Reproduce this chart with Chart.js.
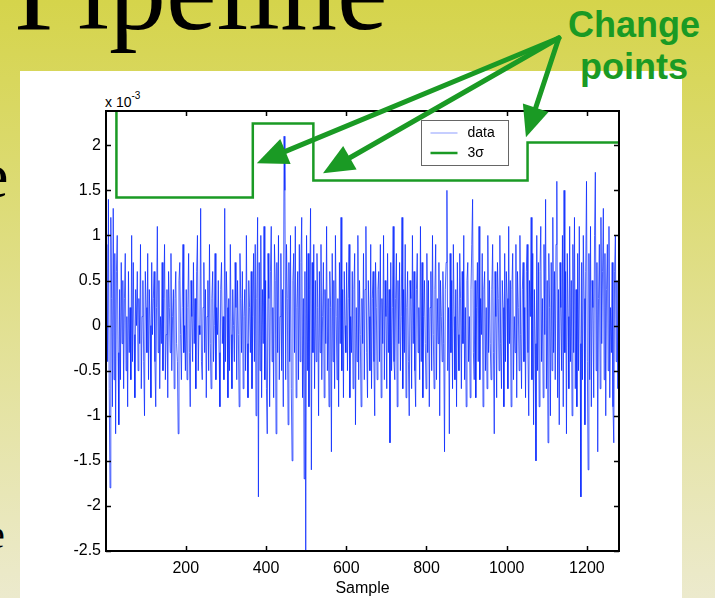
<!DOCTYPE html>
<html>
<head>
<meta charset="utf-8">
<script src="https://cdn.jsdelivr.net/npm/chart.js@4.4.0/dist/chart.umd.min.js"></script>
<style>
body { margin: 0; }
#diapo { position: relative; width: 715px; height: 598px; overflow: hidden; background: linear-gradient(#d5d44b, #eceacd); }
#titulo { position: absolute; left: 14px; top: -66px; font: 114px/114px "Liberation Serif"; color: #000; white-space: nowrap; }
.lado { position: absolute; font-family: "Liberation Serif"; color: #000; }
#panel { position: absolute; left: 20px; top: 71px; width: 662px; height: 527px; background: #fff; }
#cambios { position: absolute; left: 534px; top: 4px; width: 200px; text-align: center; font: bold 36px/42px "Liberation Sans"; color: #1a9a24; }
#exponente { position: absolute; left: 105px; top: 95px; font: 14px/14px "Liberation Sans"; color: #000; white-space: nowrap; }
#exponente span { position: relative; top: -8px; font-size: 10px; }
#myChart { position: absolute; left: 0; top: 0; }
</style>
</head>
<body>
<div id="diapo">
  <div id="titulo">Pipeline</div>
  <div class="lado" style="left:-20px; top:144px; font-size:64px; line-height:64px;">e</div>
  <div class="lado" style="left:-13px; top:515px; font-size:40px; line-height:40px;">e</div>
  <div id="panel"></div>
  <div id="cambios">Change<br>points</div>
  <div id="exponente">x 10<span>-3</span></div>
  <canvas id="myChart" width="715" height="598"></canvas>
</div>
<script>
// senal en unidades de 1e-4, una muestra cada 2
const primeraMuestra = 1
const pasoMuestra = 2
const ruido = [
    5, 9, -4, 14, -7, -18, 12, 3, -9, 13, -6, 8, -12, 6, 10, -3, -11, 4, -6, 7,
    -2, 5, -7, 3, 8, -5, 1, -9, 6, -3, 2, -6, 10, -4, 7, -1, -8, 4, 0, 6,
    -5, 3, -2, 9, -7, 1, 5, -4, -10, 6, 2, -3, 8, -6, 4, 0, -8, 7, -1, 3,
    6, -4, -9, 2, 11, -3, 5, -7, 1, -2, 7, -5, 3, 9, -6, -1, 4, -8, 6, 2,
    -3, 8, -5, 1, 4, -7, 3, 6, -2, -4, -12, 5, 7, -1, -6, 2, 9, -3, 0, -5,
    4, -6, 2, 8, -3, -9, 5, 1, -4, 7, -2, 3, -7, 6, 10, -5, 0, -1, 13, -4,
    -6, 2, 7, -3, 4, -8, 1, 5, -5, 9, -2, -7, 3, 6, -4, 0, 8, -6, 2, -1,
    5, -3, -9, 4, 7, -2, 1, -6, 13, -4, 6, 2, -8, 3, -5, 9, -1, -7, 4, 0,
    -4, 7, 2, -6, 5, -1, -9, 8, 3, -3, 6, -7, 1, 4, -5, 10, -2, -8, 5, 2,
    -3, 6, -7, 1, 8, -4, 9, -10, 3, 12, -19, 7, -5, 10, -8, 4, -2, 11, -6, 5,
    -7, -12, 8, 3, -9, 6, 11, -4, 2, -8, 9, 5, -12, 7, -3, 10, -6, 1, 8, -5,
    4, -9, 21, 15, -6, 9, 3, -11, 7, -4, 10, -7, -15, 5, 8, -3, 11, -8, 2, 6,
    -6, 9, -4, 7, 12, -8, 3, -17, 6, -28, 10, -5, 8, -9, 4, 13, -16, 7, -3, 9,
    -7, 5, -4, 8, 2, -10, 6, -3, 9, -6, 1, 7, -8, 4, -2, 11, -5, 3, -9, 6,
    2, -14, 8, -4, 5, -7, 10, 1, -6, 3, -9, 7, -2, 12, -5, 4, -8, 6, 0, -3,
    7, -5, 3, 9, -8, 1, -3, 6, -7, 4, 8, -11, 2, -4, 10, -6, 5, -1, -9, 3,
    -2, 8, -6, 4, 11, -3, -8, 5, 1, -5, 9, -7, 3, 6, -4, -10, 7, 2, -6, 4,
    6, -4, 9, -8, 3, -2, 10, -6, 5, 1, -7, 8, -3, 4, -13, 7, -5, 2, 11, -4,
    -6, 3, 8, -9, 5, -2, 7, -5, 1, 12, -7, 4, -3, 9, -8, 2, 6, -4, -10, 5,
    3, -7, 10, -2, 6, -5, -9, 4, 8, -3, 2, -6, 11, -4, 7, -8, 1, 5, -2, -7,
    8, -3, 5, -9, 2, 6, -5, 10, -1, -7, 4, 9, -6, 3, -2, 7, -10, 5, 1, -4,
    6, -2, -14, 4, 7, 15, -5, 2, -12, 8, -3, 5, -7, 9, 1, -6, 4, -9, 7, -1,
    -5, 8, 3, -7, 6, -2, 10, -6, 2, -9, 5, 7, -4, 1, -8, 4, 9, 14, -3, -6,
    5, -8, 2, 7, -4, 11, -6, 3, -1, 8, -9, 4, 6, -5, 2, -7, 10, -3, 5, -2,
    -6, 4, 9, -3, -12, 6, 1, -8, 7, 3, -5, 10, -2, -7, 5, 2, -9, 8, -4, 6,
    3, -7, 11, -2, 5, -9, 4, 8, -6, 1, -3, 9, -8, 6, 2, -5, 10, -1, -7, 4,
    7, -4, 2, -8, 6, 9, -3, -10, 5, 1, 12, -6, 8, -11, 4, -2, -15, 10, -5, 7,
    -9, 6, 11, -4, 3, -8, 9, -1, 14, -7, 5, -13, 8, 2, -10, 7, -5, 12, -3, 6,
    -6, 9, 16, -8, 4, -11, 7, 2, -5, 10, -9, 15, -3, 6, -12, 8, 1, -7, 11, -4,
    5, -10, 9, -3, 12, -7, 4, -9, 8, -5, 11, -2, -19, 7, -6, 10, 3, -11, 6, 16,
    -4, -16, 8, -6, 11, -9, 5, 2, -8, 10, 17, -5, 7, -14, 3, 9, -7, 12, -2, 6,
    13, -6, 8, -10, 4, 9, -5, 11, -8, 2, -3, 7, -9, -13, 6, 10, -4, 5, -7, 3
]
// umbral 3 sigma por tramo (unidades de 1e-4)
const cambiosMuestra = [1, 27, 367, 518, 1052, 1280]
const umbral3s = [30, 14.2, 22.4, 16.1, 20.3, 20.3]
const marcasX = [200, 400, 600, 800, 1000, 1200]
const marcasY = [-2.5, -2, -1.5, -1, -0.5, 0, 0.5, 1, 1.5, 2]
const etiquetasSerie = ['data', '3\u03c3']
// flechas de "Change points" (en coordenadas de los ejes)
const origenFlecha = [1130, 3.19]
const puntasFlecha = [[377, 1.80], [542, 1.69], [1048, 2.09]]

const verde = '#1a9a24'
const azul = 'rgba(0, 35, 255, 0.8)'
const fuente = 'Liberation Sans'

function flecha(ctx, x0, y0, x1, y1) {
    let ang = Math.atan2(y1 - y0, x1 - x0)
    let largo = 31, ancho = 13.5
    let bx = x1 - largo * Math.cos(ang), by = y1 - largo * Math.sin(ang)
    ctx.beginPath()
    ctx.moveTo(x0, y0)
    ctx.lineTo(bx, by)
    ctx.stroke()
    ctx.beginPath()
    ctx.moveTo(x1, y1)
    ctx.lineTo(bx + ancho * Math.sin(ang), by - ancho * Math.cos(ang))
    ctx.lineTo(bx - ancho * Math.sin(ang), by + ancho * Math.cos(ang))
    ctx.closePath()
    ctx.fill()
}

const adornos = {
    id: 'adornos',
    afterDraw(chart) {
        let ctx = chart.ctx
        let a = chart.chartArea
        let sx = chart.scales.x, sy = chart.scales.y
        ctx.save()
        // marco y marcas hacia adentro
        ctx.strokeStyle = '#000'
        ctx.lineWidth = 2
        ctx.strokeRect(a.left, a.top, a.right - a.left, a.bottom - a.top)
        ctx.lineWidth = 1.5
        ctx.beginPath()
        for (let v of marcasX) {
            let px = Math.round(sx.getPixelForValue(v)) + 0.5
            ctx.moveTo(px, a.bottom); ctx.lineTo(px, a.bottom - 5)
            ctx.moveTo(px, a.top); ctx.lineTo(px, a.top + 5)
        }
        for (let v of marcasY) {
            let py = Math.round(sy.getPixelForValue(v)) + 0.5
            ctx.moveTo(a.left, py); ctx.lineTo(a.left + 5, py)
            ctx.moveTo(a.right, py); ctx.lineTo(a.right - 5, py)
        }
        ctx.stroke()

        // leyenda
        let lx = 421.5, ly = 120.5
        ctx.fillStyle = '#fff'
        ctx.fillRect(lx, ly, 87, 45)
        ctx.strokeStyle = '#666'
        ctx.lineWidth = 1
        ctx.strokeRect(lx, ly, 87, 45)
        ctx.font = '14px "' + fuente + '"'
        ctx.textBaseline = 'middle'
        chart.data.datasets.forEach((ds, i) => {
            let yy = ly + 12.5 + i * 20
            ctx.strokeStyle = i == 0 ? 'rgba(0, 35, 255, 0.45)' : ds.borderColor
            ctx.lineWidth = i == 0 ? 1 : 2.5
            ctx.beginPath()
            ctx.moveTo(lx + 9, yy); ctx.lineTo(lx + 36, yy)
            ctx.stroke()
            ctx.fillStyle = '#000'
            ctx.fillText(ds.label, lx + 46, yy)
        })

        // flechas
        ctx.strokeStyle = verde
        ctx.fillStyle = verde
        ctx.lineWidth = 5
        ctx.lineCap = 'round'
        let ox = sx.getPixelForValue(origenFlecha[0]), oy = sy.getPixelForValue(origenFlecha[1])
        for (let p of puntasFlecha) {
            flecha(ctx, ox, oy, sx.getPixelForValue(p[0]), sy.getPixelForValue(p[1]))
        }
        ctx.restore()
    }
}

function generarGrafico() {
    let puntosDatos = ruido.map((v, i) => ({ x: primeraMuestra + i * pasoMuestra, y: v / 10 }))
    let puntosUmbral = cambiosMuestra.map((m, i) => ({ x: m, y: umbral3s[i] / 10 }))
    let grafico = document.getElementById('myChart')
    let myChart = new Chart(grafico, {
        type: 'line',
        data: {
            datasets: [{
                label: etiquetasSerie[0],
                data: puntosDatos,
                borderColor: azul,
                borderWidth: 0.9,
                pointRadius: 0,
                tension: 0
            }, {
                label: etiquetasSerie[1],
                data: puntosUmbral,
                borderColor: verde,
                borderWidth: 2.5,
                pointRadius: 0,
                stepped: 'before'
            }]
        },
        options: {
            responsive: false,
            animation: false,
            devicePixelRatio: 1,
            layout: { padding: { top: 111, right: 96, left: 0, bottom: 0 } },
            plugins: { legend: { display: false }, tooltip: { enabled: false } },
            scales: {
                x: {
                    type: 'linear',
                    min: 1,
                    max: 1280,
                    afterBuildTicks: s => { s.ticks = marcasX.map(v => ({ value: v })) },
                    afterFit: s => { s.height = 47 },
                    grid: { display: false, drawTicks: false },
                    border: { display: false },
                    ticks: { color: '#000', font: { family: fuente, size: 16 }, padding: 8, maxRotation: 0, autoSkip: false, callback: v => String(v) },
                    title: { display: true, text: 'Sample', color: '#000', font: { family: fuente, size: 16 }, padding: { top: 0, bottom: 0 } }
                },
                y: {
                    min: -2.5,
                    max: 2.38,
                    afterBuildTicks: s => { s.ticks = marcasY.map(v => ({ value: v })) },
                    afterFit: s => { s.width = 106 },
                    grid: { display: false, drawTicks: false },
                    border: { display: false },
                    ticks: { color: '#000', font: { family: fuente, size: 16 }, padding: 5, callback: v => String(v) }
                }
            }
        },
        plugins: [adornos]
    })
}
generarGrafico()
</script>
</body>
</html>
